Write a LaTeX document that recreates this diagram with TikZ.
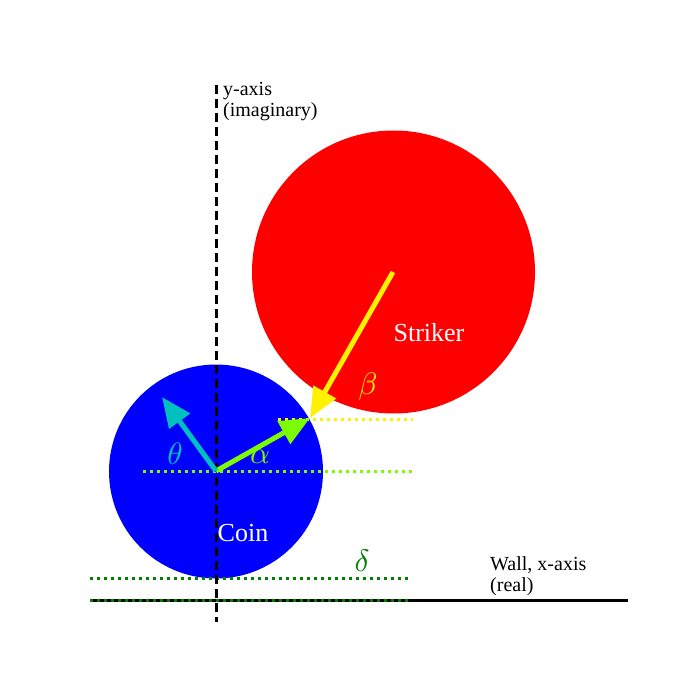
\documentclass[tikz,border=0pt]{standalone}
\usepackage{fontspec}
\setmainfont{Liberation Serif}
\usetikzlibrary{arrows.meta}
\definecolor{lawn}{HTML}{7CFC00}
\definecolor{cyanc}{HTML}{00BFBF}
\definecolor{dgreen}{HTML}{008000}
\begin{document}
\begin{tikzpicture}[x=1pt,y=-1pt,
  vec/.style={line width=5pt,-{Triangle[length=30pt,width=25pt]}},
  dotl/.style={line width=3pt,dash pattern=on 3pt off 4pt},
  lbl/.style={font=\fontsize{20}{21}\selectfont,align=left,inner sep=0pt},
  big/.style={text=white,inner sep=0pt,font=\fontsize{26}{28}\selectfont},
  greek/.style={font=\normalsize,inner sep=0pt,scale=3.1}]
\useasboundingbox (0,0) rectangle (700,700);
\fill[red] (393.5,272) circle (141.5);
\fill[blue] (216,471.5) circle (107);
\coordinate (coin) at (216,471);
\coordinate (striker) at (393,272);
\coordinate (contact) at (310,418);
\coordinate (thetaend) at (162,397);
% dotted reference lines
\draw[dotl,lawn] (143,471) -- (413,471);
\draw[dotl,yellow] (278,419) -- (413,419);
\draw[dotl,dgreen] (90,578) -- (410,578);
% axes
\draw[line width=3pt] (90,600) -- (628,600);
\draw[dotl,dgreen] (90,600) -- (410,600);
\draw[line width=3pt,dash pattern=on 9pt off 5pt] (216,85) -- (216,622);
% arrows
\draw[vec,yellow] (striker) -- (contact);
\draw[vec,lawn] (coin) -- (contact);
\draw[vec,cyanc] (coin) -- (thetaend);
% labels
\node[greek,text=cyanc] (th) at (175,454) {$\theta$};
\node[greek,text=lawn] (al) at (260,457) {$\alpha$};
\node[greek,text=yellow] (be) at (368,387) {$\beta$};
\node[greek,text=dgreen] (de) at (362,561) {$\delta$};
\node[big] (st) at (429,333) {Striker};
\node[big] (co) at (243,533) {Coin};
\node[lbl,anchor=base west] (ya) at (223,117) {y-axis\\(imaginary)};
\node[lbl,anchor=base west] (wa) at (490,591) {Wall, x-axis\\(real)};
\end{tikzpicture}
\end{document}
